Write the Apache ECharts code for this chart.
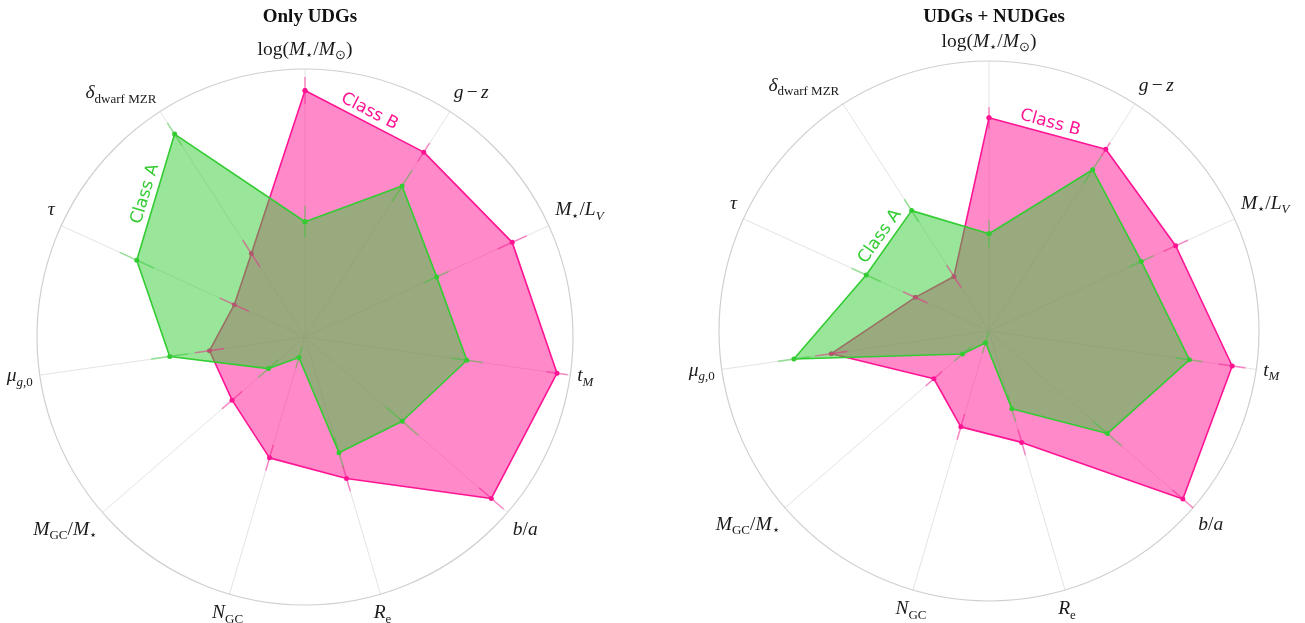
<!DOCTYPE html>
<html>
<head>
<meta charset="utf-8">
<script src="https://cdn.jsdelivr.net/npm/echarts@6/dist/echarts.min.js"></script>
<style>
html,body{margin:0;padding:0;background:#fff;}
#chart{width:1305px;height:623px;}
</style>
</head>
<body>
<div id="chart"></div>
<script>
// ---- data (axes in clockwise order, starting at the top) ----
const categories = ['logM', 'gz', 'ML', 'tM', 'ba', 'Re', 'NGC', 'MGC', 'mu', 'tau', 'delta'];
const categoryLabels = [
  '{r|log(}{m|M}{s|⋆}{r|/}{m|M}{s|⊙}{r|)}',
  '{m|g} {r|−} {m|z}',
  '{m|M}{s|⋆}{r|/}{m|L}{si|V}',
  '{m|t}{si|M}',
  '{m|b}{r|/}{m|a}',
  '{m|R}{s|e}',
  '{m|N}{s|GC}',
  '{m|M}{s|GC}{r|/}{m|M}{s|⋆}',
  '{m|μ}{si|g}{s|,0}',
  '{m|τ}',
  '{m|δ}{s|dwarf MZR}'
];
const titles = ['Only UDGs', 'UDGs + NUDGes'];
const seriesNames = ['Class B', 'Class A'];

// Only UDGs
const udgClassB = [0.92, 0.82, 0.85, 0.95, 0.92, 0.55, 0.47, 0.36, 0.36, 0.29, 0.37];
const udgClassBErr = [0.05, 0.04, 0.06, 0.04, 0.06, 0.05, 0.05, 0.05, 0.055, 0.06, 0.06];
const udgClassA = [0.43, 0.67, 0.54, 0.61, 0.48, 0.45, 0.08, 0.18, 0.51, 0.69, 0.90];
const udgClassAErr = [0.06, 0.07, 0.05, 0.06, 0.08, 0.06, 0.04, 0.05, 0.07, 0.07, 0.05];

// UDGs + NUDGes
const allClassB = [0.79, 0.80, 0.76, 0.91, 0.95, 0.43, 0.37, 0.27, 0.59, 0.30, 0.24];
const allClassBErr = [0.04, 0.03, 0.05, 0.05, 0.05, 0.05, 0.05, 0.04, 0.06, 0.05, 0.05];
const allClassA = [0.36, 0.71, 0.62, 0.75, 0.58, 0.30, 0.045, 0.13, 0.73, 0.50, 0.53];
const allClassAErr = [0.05, 0.06, 0.05, 0.05, 0.07, 0.05, 0.04, 0.04, 0.06, 0.06, 0.05];

// edges (from index, to index) along which the class names are written
const labelEdgeB = [0, 1];
const labelEdgeA = [9, 10];

// ---- layout / style ----
const N = categories.length;
const PINK = '#ff1493';
const GREEN = '#33cc33';
const panels = [
  {center: [305, 337], radius: 268, B: udgClassB, BE: udgClassBErr, A: udgClassA, AE: udgClassAErr},
  {center: [989, 331], radius: 270, B: allClassB, BE: allClassBErr, A: allClassA, AE: allClassAErr}
];

const richStyles = {
  r: {fontFamily: 'Liberation Serif', fontSize: 19.5, lineHeight: 25, color: '#1a1a1a', verticalAlign: 'middle'},
  m: {fontFamily: 'Liberation Serif', fontStyle: 'italic', fontSize: 19.5, lineHeight: 25, color: '#1a1a1a', verticalAlign: 'middle'},
  s: {fontFamily: 'Liberation Serif', fontSize: 13, lineHeight: 13, color: '#1a1a1a', verticalAlign: 'bottom'},
  si: {fontFamily: 'Liberation Serif', fontStyle: 'italic', fontSize: 13, lineHeight: 13, color: '#1a1a1a', verticalAlign: 'bottom'}
};

function closed(vals) {
  const d = vals.map((v, i) => [v, i]);
  d.push([vals[0], N]);
  return d;
}

function errData(vals, errs) {
  return vals.map((v, i) => [v, i, errs[i]]);
}

function errRender(color) {
  return function (params, api) {
    const v = api.value(0), i = api.value(1), e = api.value(2);
    const p1 = api.coord([Math.max(0, v - e), i]);
    const p2 = api.coord([Math.min(1, v + e), i]);
    return {
      type: 'line',
      shape: {x1: p1[0], y1: p1[1], x2: p2[0], y2: p2[1]},
      style: {stroke: color, lineWidth: 1.6, opacity: 0.45}
    };
  };
}

function nameRender(vals, text, color) {
  return function (params, api) {
    const i1 = api.value(1), i2 = api.value(2);
    const p1 = api.coord([vals[i1], i1]);
    const p2 = api.coord([vals[i2], i2]);
    const dx = p2[0] - p1[0], dy = p2[1] - p1[1];
    const len = Math.sqrt(dx * dx + dy * dy);
    const ux = dy / len, uy = -dx / len;
    const off = 11;
    return {
      type: 'text',
      x: (p1[0] + p2[0]) / 2 + ux * off,
      y: (p1[1] + p2[1]) / 2 + uy * off,
      rotation: -Math.atan2(dy, dx),
      style: {text: text, fill: color, font: '17px "DejaVu Sans"', align: 'center', verticalAlign: 'middle'}
    };
  };
}

const option = {
  backgroundColor: '#ffffff',
  animation: false,
  title: panels.map((p, k) => ({
    text: titles[k], left: p.center[0], top: 3, textAlign: 'center',
    textStyle: {fontFamily: 'Liberation Serif', fontWeight: 'bold', fontSize: 19, color: '#111'}
  })),
  polar: panels.map(p => ({center: p.center, radius: p.radius})),
  angleAxis: panels.map((p, k) => ({
    polarIndex: k, type: 'value', min: 0, max: N, interval: 1, startAngle: 90, clockwise: true,
    axisLine: {show: true, lineStyle: {color: '#cfcfcf', width: 1.2}},
    axisTick: {show: false},
    splitLine: {show: true, lineStyle: {color: '#e4e4e4', width: 1}},
    axisLabel: {
      show: true, margin: 7,
      formatter: function (v) { return (v >= 0 && v < N && Math.round(v) === v) ? categoryLabels[v] : ''; },
      rich: richStyles
    }
  })),
  radiusAxis: panels.map((p, k) => ({
    polarIndex: k, type: 'value', min: 0, max: 1,
    axisLine: {show: false}, axisTick: {show: false}, axisLabel: {show: false}, splitLine: {show: false}
  })),
  series: []
};

panels.forEach((p, k) => {
  option.series.push({
    name: seriesNames[0], type: 'line', coordinateSystem: 'polar', polarIndex: k,
    data: closed(p.B), symbol: 'circle', symbolSize: 5, z: 2,
    lineStyle: {color: PINK, width: 1.6}, itemStyle: {color: PINK},
    areaStyle: {color: PINK, opacity: 0.5}
  });
  option.series.push({
    name: seriesNames[1], type: 'line', coordinateSystem: 'polar', polarIndex: k,
    data: closed(p.A), symbol: 'circle', symbolSize: 5, z: 3,
    lineStyle: {color: GREEN, width: 1.6}, itemStyle: {color: GREEN},
    areaStyle: {color: GREEN, opacity: 0.5}
  });
  option.series.push({
    type: 'custom', coordinateSystem: 'polar', polarIndex: k, z: 4,
    data: errData(p.B, p.BE), renderItem: errRender(PINK)
  });
  option.series.push({
    type: 'custom', coordinateSystem: 'polar', polarIndex: k, z: 4,
    data: errData(p.A, p.AE), renderItem: errRender(GREEN)
  });
  option.series.push({
    type: 'custom', coordinateSystem: 'polar', polarIndex: k, z: 5,
    data: [[0, labelEdgeB[0], labelEdgeB[1]]], renderItem: nameRender(p.B, seriesNames[0], PINK)
  });
  option.series.push({
    type: 'custom', coordinateSystem: 'polar', polarIndex: k, z: 5,
    data: [[0, labelEdgeA[0], labelEdgeA[1]]], renderItem: nameRender(p.A, seriesNames[1], GREEN)
  });
});

const chart = echarts.init(document.getElementById('chart'));
chart.setOption(option);
</script>
</body>
</html>
